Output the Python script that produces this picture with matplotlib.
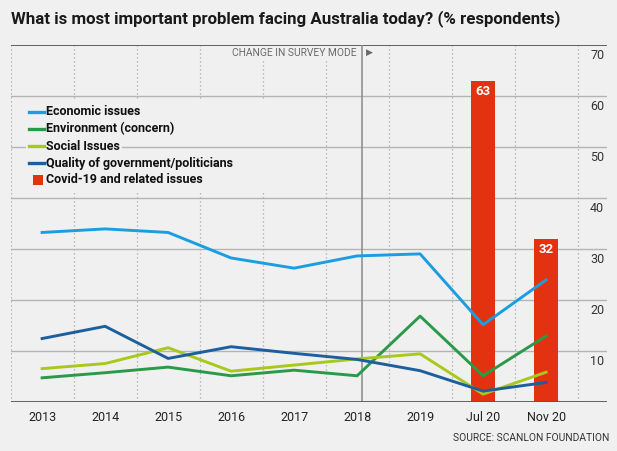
import matplotlib
matplotlib.use("Agg")
import matplotlib.pyplot as plt
from matplotlib.lines import Line2D
from matplotlib.patches import Rectangle

# --- data -------------------------------------------------------------
periods = ["2013", "2014", "2015", "2016", "2017", "2018", "2019", "Jul 20", "Nov 20"]
economic = [33.3, 34.0, 33.3, 28.3, 26.3, 28.7, 29.1, 15.2, 24.0]
environment = [4.8, 5.8, 6.9, 5.2, 6.3, 5.2, 16.9, 5.2, 13.0]
social = [6.6, 7.6, 10.7, 6.1, 7.3, 8.5, 9.5, 1.6, 5.9]
quality = [12.5, 14.9, 8.6, 10.9, 9.6, 8.4, 6.2, 2.2, 3.9]
covid_periods = ["Jul 20", "Nov 20"]
covid = [63, 32]
y_ticks = [10, 20, 30, 40, 50, 60, 70]

BG = "#f0f0f0"
C_ECON = "#1b9de2"
C_ENV = "#2b9a48"
C_SOC = "#a9c81e"
C_QUAL = "#1c5f9c"
C_COVID = "#e2320f"

W, H = 617, 451
fig = plt.figure(figsize=(W / 100, H / 100), dpi=100, facecolor=BG)

# axes box in pixels (left, top, right, bottom)
AX_L, AX_T, AX_R, AX_B = 10.6, 45.3, 607.0, 402.3
ax = fig.add_axes([AX_L / W, 1 - AX_B / H, (AX_R - AX_L) / W, (AX_B - AX_T) / H])
ax.set_facecolor(BG)
for s in ax.spines.values():
    s.set_visible(False)

step = 63.0
ax.set_xlim(-0.5, -0.5 + (AX_R - AX_L) / step)
ax.set_ylim(0, 70)

xs = list(range(len(periods)))

# vertical dotted separators
for k in range(len(periods) + 1):
    ax.axvline(k - 0.5, color="#a8a8a8", lw=0.9, ls=(0, (1, 2.2)), zorder=1)

# change in survey mode
x_change = periods.index("2018") + 0.08
ax.axvline(x_change, color="#8a8a8a", lw=1.1, zorder=1.6)

def px2ax(px, py):
    return (px - AX_L) / (AX_R - AX_L), 1 - (py - AX_T) / (AX_B - AX_T)

# legend background box (hides the dotted lines)
lx0, ly0 = px2ax(15, 192)
lx1, ly1 = px2ax(272, 100)
ax.add_patch(Rectangle((lx0, ly0), lx1 - lx0, ly1 - ly0, transform=ax.transAxes,
                       facecolor=BG, edgecolor="none", zorder=1.3))

# horizontal grid
for v in y_ticks[:-1]:
    ax.axhline(v, color="#b4b4b4", lw=1.0, zorder=1.5)
ax.axhline(70, color="#555555", lw=1.3, zorder=1.5)
ax.axhline(0, color="#555555", lw=1.3, zorder=6)

# right-hand value labels
for v in y_ticks:
    ax.text(8.81, v - 1.95, str(v), ha="center", va="center", fontsize=9,
            color="#333333", family="Roboto", zorder=3)

# bars
bar_x = [periods.index(p) for p in covid_periods]
ax.bar(bar_x, covid, width=0.39, color=C_COVID, zorder=2)
for bx, v in zip(bar_x, covid):
    ax.text(bx, v - 2.0, str(v), ha="center", va="center", color="white",
            fontsize=9.5, fontweight="bold", family="Roboto", zorder=7)

# lines
lw = 2.1
ax.plot(xs, environment, color=C_ENV, lw=lw, zorder=4)
ax.plot(xs, social, color=C_SOC, lw=lw, zorder=4)
ax.plot(xs, quality, color=C_QUAL, lw=lw, zorder=4)
ax.plot(xs, economic, color=C_ECON, lw=lw, zorder=4)

# x labels
ax.set_xticks(xs)
ax.set_xticklabels(periods, family="Roboto", fontsize=9, color="#222222")
ax.tick_params(axis="x", length=0, pad=6)
ax.set_yticks([])

# manual legend
entries = [("Economic issues", C_ECON, "line"),
           ("Environment (concern)", C_ENV, "line"),
           ("Social Issues", C_SOC, "line"),
           ("Quality of government/politicians", C_QUAL, "line"),
           ("Covid-19 and related issues", C_COVID, "box")]
row_y = [111.7, 128.7, 146.0, 163.0, 179.7]
for (label, col, kind), py in zip(entries, row_y):
    tx, ty = px2ax(46, py)
    ax.text(tx, ty, label, transform=ax.transAxes, ha="left", va="center",
            fontsize=9, fontweight="bold", family="Roboto", color="#111111",
            zorder=4, bbox=dict(facecolor=BG, edgecolor="none", pad=1.5))
    if kind == "line":
        a0 = px2ax(29, py)
        a1 = px2ax(44, py)
        ax.add_line(Line2D([a0[0], a1[0]], [a0[1], a1[1]], transform=ax.transAxes,
                           color=col, lw=2.4, zorder=5))
    else:
        b0 = px2ax(33, py + 5)
        b1 = px2ax(43, py - 5)
        ax.add_patch(Rectangle(b0, b1[0] - b0[0], b1[1] - b0[1], transform=ax.transAxes,
                               facecolor=col, edgecolor="none", zorder=5))
# cover grid behind handles of Social Issues row
cx0, cy0 = px2ax(26, 152)
cx1, cy1 = px2ax(46, 140)
ax.add_patch(Rectangle((cx0, cy0), cx1 - cx0, cy1 - cy0, transform=ax.transAxes,
                       facecolor=BG, edgecolor="none", zorder=3.5))

# survey mode note
nx, ny = px2ax(357, 52.7)
ax.text(nx, ny, "CHANGE IN SURVEY MODE", transform=ax.transAxes, ha="right",
        va="center", fontsize=7.4, color="#6a6a6a", family="Roboto", zorder=3,
        bbox=dict(facecolor=BG, edgecolor="none", pad=1.0))
mx, my = px2ax(369, 52.7)
ax.text(mx, my, "\u25B6", transform=ax.transAxes, ha="center", va="center",
        fontsize=6.5, color="#6a6a6a", family="DejaVu Sans", zorder=3)

# title and source
fig.text(11 / W, 1 - 19 / H, "What is most important problem facing Australia today? (% respondents)",
         ha="left", va="center", fontsize=12.2, fontweight="semibold", family="Roboto",
         color="#1a1a1a")
fig.text(609 / W, 1 - 438 / H, "SOURCE: SCANLON FOUNDATION", ha="right", va="center",
         fontsize=7.4, color="#333333", family="Roboto")

fig.savefig("out.png", dpi=100, facecolor=BG)
